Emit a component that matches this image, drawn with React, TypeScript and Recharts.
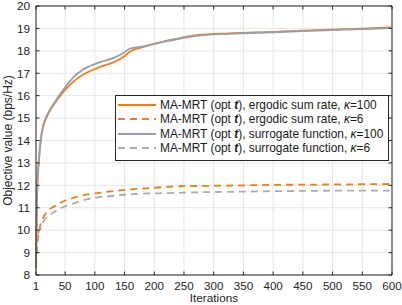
import { LineChart, Line, XAxis, YAxis, CartesianGrid, ReferenceLine } from "recharts";

const iterations = [1, 3, 6, 9, 14, 20, 31, 48, 65, 79, 103, 134, 148, 159, 182, 215, 243, 271, 327, 400, 450, 500, 550, 600];

const ergodicK100 = [8.3, 11.6, 13.1, 14.0, 14.7, 15.1, 15.6, 16.2, 16.65, 16.92, 17.22, 17.52, 17.72, 17.96, 18.18, 18.41, 18.56, 18.7, 18.78, 18.85, 18.9, 18.95, 18.99, 19.06];
const ergodicK6 = [8.4, 9.3, 9.9, 10.3, 10.6, 10.85, 11.05, 11.3, 11.45, 11.55, 11.65, 11.75, 11.79, 11.82, 11.86, 11.92, 11.96, 11.97, 11.99, 12.02, 12.03, 12.04, 12.05, 12.06];
const surrogateK100 = [8.6, 11.9, 13.2, 14.05, 14.75, 15.15, 15.65, 16.3, 16.85, 17.15, 17.44, 17.71, 17.9, 18.1, 18.2, 18.4, 18.55, 18.67, 18.76, 18.83, 18.88, 18.93, 18.97, 19.02];
const surrogateK6 = [9.3, 9.7, 9.95, 10.07, 10.4, 10.6, 10.8, 11.05, 11.2, 11.33, 11.45, 11.54, 11.58, 11.6, 11.63, 11.65, 11.67, 11.69, 11.71, 11.74, 11.75, 11.76, 11.76, 11.76];

const xTicks = [1, 50, 100, 150, 200, 250, 300, 350, 400, 450, 500, 550, 600];
const yTicks = [8, 9, 10, 11, 12, 13, 14, 15, 16, 17, 18, 19, 20];

const legendItems = [
  { label: "ergodic sum rate", kappa: "100", color: "#e8801e", dash: "" },
  { label: "ergodic sum rate", kappa: "6", color: "#e8801e", dash: "7 5" },
  { label: "surrogate function", kappa: "100", color: "#9a9ea6", dash: "" },
  { label: "surrogate function", kappa: "6", color: "#a9adb3", dash: "7 5" },
];

const data = iterations.map((it, i) => ({
  it,
  e100: ergodicK100[i],
  e6: ergodicK6[i],
  s100: surrogateK100[i],
  s6: surrogateK6[i],
}));

const PLOT_LEFT = 36;
const PLOT_RIGHT = 392;
const PLOT_TOP = 6;
const PLOT_BOTTOM = 275;
const FONT = "'Liberation Sans', Arial, sans-serif";
const AXIS = "#262626";

function XTick(props: any) {
  const { x, payload } = props;
  return (
    <g>
      <line x1={x} x2={x} y1={PLOT_BOTTOM} y2={PLOT_BOTTOM - 3.5} stroke={AXIS} />
      <line x1={x} x2={x} y1={PLOT_TOP} y2={PLOT_TOP + 3.5} stroke={AXIS} />
      <text x={x} y={PLOT_BOTTOM + 15} textAnchor="middle" fontSize={11.6} fill={AXIS} fontFamily={FONT}>
        {payload.value}
      </text>
    </g>
  );
}

function YTick(props: any) {
  const { y, payload } = props;
  return (
    <g>
      <line x1={PLOT_LEFT} x2={PLOT_LEFT + 3.5} y1={y} y2={y} stroke={AXIS} />
      <line x1={PLOT_RIGHT} x2={PLOT_RIGHT - 3.5} y1={y} y2={y} stroke={AXIS} />
      <text x={PLOT_LEFT - 6} y={y + 4.3} textAnchor="end" fontSize={11.8} fill={AXIS} fontFamily={FONT}>
        {payload.value}
      </text>
    </g>
  );
}

export default function App() {
  return (
    <div style={{ position: "relative", width: 402, height: 305, background: "#fff" }}>
      <style>{"body{margin:0}"}</style>
      <LineChart width={402} height={305} data={data} margin={{ top: 6, right: 10, left: 0, bottom: 0 }}>
        <CartesianGrid stroke="#e6e6e6" strokeWidth={1} />
        <XAxis
          dataKey="it"
          type="number"
          domain={[1, 600]}
          ticks={xTicks}
          height={30}
          stroke={AXIS}
          tickLine={false}
          tick={<XTick />}
          interval={0}
          label={{
            content: () => (
              <text x={(PLOT_LEFT + PLOT_RIGHT) / 2} y={302.3} textAnchor="middle" fontSize={11.8} fill={AXIS} fontFamily={FONT}>
                Iterations
              </text>
            ),
          }}
        />
        <YAxis
          type="number"
          domain={[8, 20]}
          ticks={yTicks}
          width={36}
          stroke={AXIS}
          tickLine={false}
          tick={<YTick />}
          interval={0}
          label={{
            content: () => (
              <text
                x={12}
                y={(PLOT_TOP + PLOT_BOTTOM) / 2}
                textAnchor="middle"
                fontSize={12}
                fill={AXIS}
                fontFamily={FONT}
                transform={`rotate(-90 12 ${(PLOT_TOP + PLOT_BOTTOM) / 2})`}
              >
                Objective value (bps/Hz)
              </text>
            ),
          }}
        />
        <ReferenceLine y={20} stroke={AXIS} strokeWidth={1} />
        <ReferenceLine x={600} stroke={AXIS} strokeWidth={1} />
        <Line dataKey="e100" type="monotone" stroke="#e8801e" strokeWidth={1.8} dot={false} isAnimationActive={false} />
        <Line dataKey="e6" type="monotone" stroke="#e8801e" strokeWidth={1.8} strokeDasharray="7 5" dot={false} isAnimationActive={false} />
        <Line dataKey="s100" type="monotone" stroke="#9a9ea6" strokeWidth={1.8} dot={false} isAnimationActive={false} />
        <Line dataKey="s6" type="monotone" stroke="#a9adb3" strokeWidth={1.8} strokeDasharray="7 5" dot={false} isAnimationActive={false} />
      </LineChart>
      <div
        style={{
          position: "absolute",
          left: 115,
          top: 95,
          width: 274,
          height: 66,
          border: `1px solid ${AXIS}`,
          background: "#fff",
          boxSizing: "border-box",
          paddingTop: 2,
          fontFamily: FONT,
          fontSize: 11.9,
          color: "#1a1a1a",
        }}
      >
        {legendItems.map((item) => (
          <div key={item.label + item.kappa} style={{ display: "flex", alignItems: "center", height: 14.3, whiteSpace: "nowrap" }}>
            <svg width={44} height={10} style={{ flex: "none" }}>
              <line x1={2} x2={40} y1={5} y2={5} stroke={item.color} strokeWidth={1.8} strokeDasharray={item.dash || undefined} />
            </svg>
            <span>
              MA-MRT (opt <b><i>t</i></b>), {item.label}, <i>κ</i>=<span>{item.kappa}</span>
            </span>
          </div>
        ))}
      </div>
    </div>
  );
}
